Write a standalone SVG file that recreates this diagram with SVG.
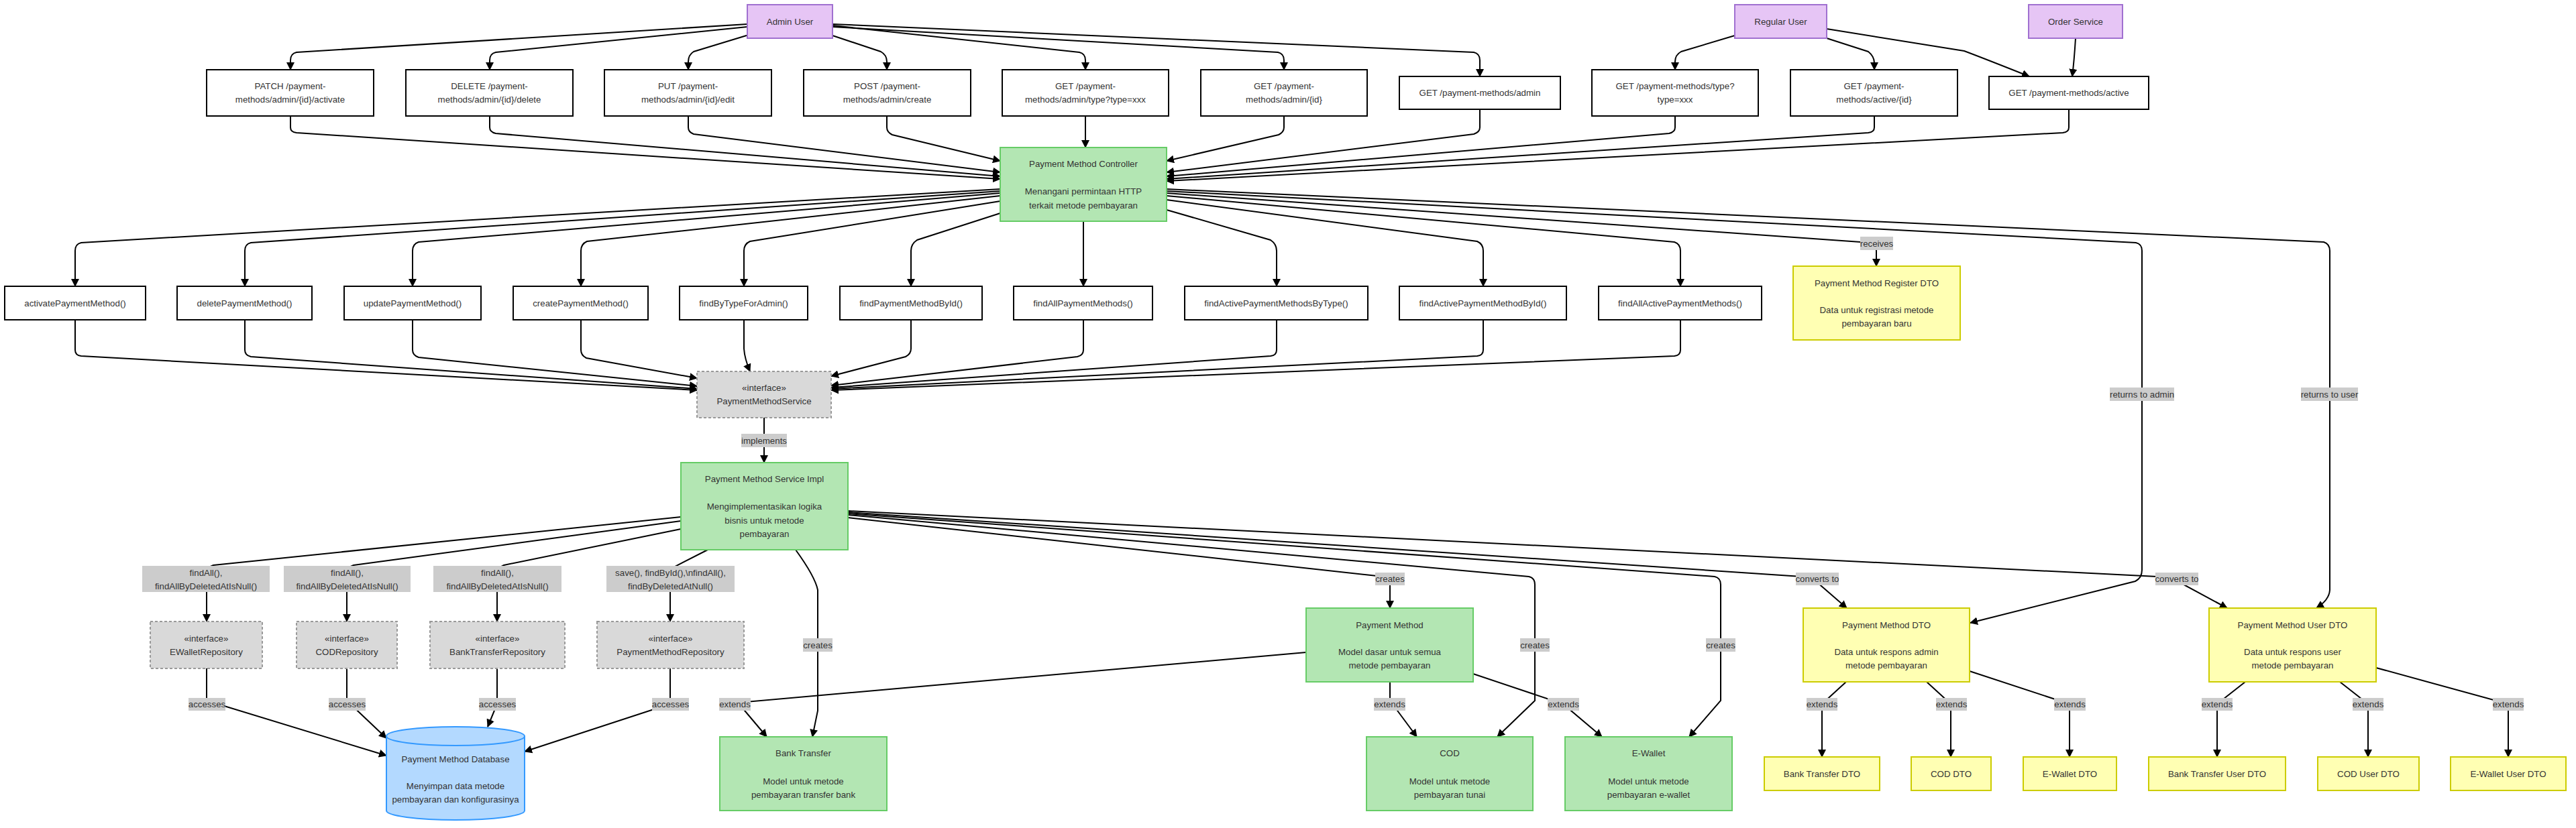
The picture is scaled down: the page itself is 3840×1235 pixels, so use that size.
<svg xmlns="http://www.w3.org/2000/svg" width="3840" height="1235" viewBox="0 0 3840 1235">
<style>
text{font-family:"Liberation Sans",Arial,sans-serif;font-size:13.3px;fill:#333;text-anchor:middle;dominant-baseline:central}
.actor{fill:#e6c5f5;stroke:#a070d0;stroke-width:2}
.ep{fill:#fff;stroke:#000;stroke-width:2}
.grn{fill:#b3e6b3;stroke:#66cc66;stroke-width:2}
.yel{fill:#ffffb3;stroke:#cccc00;stroke-width:2}
.ifc{fill:#d9d9d9;stroke:#999;stroke-width:2;stroke-dasharray:4 3}
.db{fill:#b3d9ff;stroke:#3399ff;stroke-width:2}
.lbl{fill:#cccccc}
#edges path{fill:none;stroke:#000;stroke-width:2;marker-end:url(#arr)}
</style>
<defs>
<marker id="arr" markerUnits="userSpaceOnUse" markerWidth="12" markerHeight="12" refX="11" refY="6" orient="auto">
<path d="M0,0 L12,6 L0,12 z" fill="#000"/>
</marker>
</defs>
<rect width="3840" height="1235" fill="#fff"/>
<g id="edges">
<path d="M1114,36 L442,78 Q433,80 433,90 L433,104"/>
<path d="M1114,40 L739,78 Q730,80 730,90 L730,104"/>
<path d="M1116,52 L1034,77 Q1026,82 1026,92 L1026,104"/>
<path d="M1241,53 L1313,77 Q1322,82 1322,92 L1322,104"/>
<path d="M1241,38 L1609,78 Q1618,80 1618,90 L1618,104"/>
<path d="M1241,40 L1905,78 Q1914,80 1914,90 L1914,104"/>
<path d="M1241,36 L2197,78 Q2206,80 2206,90 L2206,114"/>
<path d="M2586,53 L2506,77 Q2497,82 2497,92 L2497,104"/>
<path d="M2723,57 L2785,77 Q2794,84 2794,94 L2794,104"/>
<path d="M2723,43 L2928,76 Q2965,90 3025,114"/>
<path d="M3094,57 Q3092,90 3089,114"/>
<path d="M433,173 L433,190 Q433,197 442,198 L1491,267"/>
<path d="M730,173 L730,190 Q730,197 739,199 L1491,263"/>
<path d="M1026,173 L1026,190 Q1026,197 1034,200 L1491,257"/>
<path d="M1322,173 L1322,190 Q1322,197 1330,201 L1491,240"/>
<path d="M1618,173 L1618,220"/>
<path d="M1914,173 L1914,190 Q1914,197 1906,201 L1739,240"/>
<path d="M2206,163 L2206,190 Q2206,197 2197,200 L1739,257"/>
<path d="M2497,173 L2497,190 Q2497,197 2488,199 L1739,263"/>
<path d="M2794,173 L2794,190 Q2794,197 2785,198 L1739,267"/>
<path d="M3084,163 L3084,190 Q3084,197 3075,198 L1739,270"/>
<path d="M1491,282 L121,362 Q112,364 112,374 L112,427"/>
<path d="M1491,285 L374,362 Q365,364 365,374 L365,427"/>
<path d="M1491,288 L624,361 Q615,364 615,374 L615,427"/>
<path d="M1491,292 L875,360 Q866,364 866,374 L866,427"/>
<path d="M1491,300 L1118,360 Q1109,364 1109,374 L1109,427"/>
<path d="M1491,318 L1367,358 Q1358,364 1358,374 L1358,427"/>
<path d="M1615,330 L1615,427"/>
<path d="M1739,313 L1894,358 Q1903,364 1903,374 L1903,427"/>
<path d="M1739,298 L2202,360 Q2211,364 2211,374 L2211,427"/>
<path d="M1739,292 L2496,361 Q2505,364 2505,374 L2505,427"/>
<path d="M1739,288 L2788,362 Q2797,364 2797,374 L2797,397"/>
<path d="M1739,285 L3184,362 Q3193,364 3193,374 L3193,850 Q3193,862 3183,867 L2937,929"/>
<path d="M1739,282 L3464,361 Q3473,364 3473,374 L3473,880 Q3472,895 3453,907"/>
<path d="M112,477 L112,522 Q112,530 121,531 L1039,582"/>
<path d="M365,477 L365,522 Q365,530 374,532 L1039,580"/>
<path d="M615,477 L615,522 Q615,530 624,533 L1039,576"/>
<path d="M866,477 L866,522 Q866,530 874,534 L1039,564"/>
<path d="M1109,477 L1109,520 Q1110,535 1118,554"/>
<path d="M1358,477 L1358,520 Q1358,528 1350,532 L1239,561"/>
<path d="M1615,477 L1615,522 Q1615,530 1606,532 L1239,575"/>
<path d="M1903,477 L1903,522 Q1903,530 1894,531 L1239,578"/>
<path d="M2211,477 L2211,522 Q2211,530 2202,531 L1239,580"/>
<path d="M2505,477 L2505,522 Q2505,530 2496,531 L1239,582"/>
<path d="M1139,623 L1139,690"/>
<path d="M1015,771 L318,843 Q308,846 308,856 L308,927"/>
<path d="M1015,777 L527,843 Q517,846 517,856 L517,927"/>
<path d="M1015,789 L751,843 Q741,847 741,857 L741,927"/>
<path d="M1055,820 L1006,845 Q999,850 999,860 L999,927"/>
<path d="M308,997 L308,1045 L576,1127"/>
<path d="M517,997 L517,1045 L576,1101"/>
<path d="M741,997 L741,1050 L727,1084"/>
<path d="M999,997 L999,1050 L782,1121"/>
<path d="M1186,820 Q1215,860 1219,880 L1219,1060 L1211,1099"/>
<path d="M1264,772 L2062,860 Q2072,862 2072,872 L2072,907"/>
<path d="M1264,768 L2279,860 Q2288,862 2288,872 L2288,1045 L2232,1099"/>
<path d="M1264,766 L2556,860 Q2565,862 2565,872 L2565,1045 L2518,1099"/>
<path d="M1264,764 L2700,861 L2753,907"/>
<path d="M1264,762 L3235,861 L3320,907"/>
<path d="M1947,973 L1100,1048 L1143,1099"/>
<path d="M2072,1017 L2072,1045 L2112,1099"/>
<path d="M2196,1005 L2330,1050 L2388,1099"/>
<path d="M2752,1017 L2716,1050 L2716,1129"/>
<path d="M2872,1017 L2908,1050 L2908,1129"/>
<path d="M2936,1001 L3085,1050 L3085,1129"/>
<path d="M3347,1017 L3305,1050 L3305,1129"/>
<path d="M3488,1017 L3530,1050 L3530,1129"/>
<path d="M3542,996 L3739,1050 L3739,1129"/>
</g>
<g id="n-admin"><rect class="actor" x="1114" y="7" width="127" height="50"/><text x="1177.5" y="32">Admin User</text></g>
<g id="n-regular"><rect class="actor" x="2586" y="7" width="137" height="50"/><text x="2654.5" y="32">Regular User</text></g>
<g id="n-order"><rect class="actor" x="3024" y="7" width="140" height="50"/><text x="3094" y="32">Order Service</text></g>
<g id="n-patch"><rect class="ep" x="308" y="104" width="249" height="69"/><text x="432.5" y="128.5">PATCH /payment-</text><text x="432.5" y="148.5">methods/admin/{id}/activate</text></g>
<g id="n-delete"><rect class="ep" x="605" y="104" width="249" height="69"/><text x="729.5" y="128.5">DELETE /payment-</text><text x="729.5" y="148.5">methods/admin/{id}/delete</text></g>
<g id="n-put"><rect class="ep" x="901" y="104" width="249" height="69"/><text x="1025.5" y="128.5">PUT /payment-</text><text x="1025.5" y="148.5">methods/admin/{id}/edit</text></g>
<g id="n-post"><rect class="ep" x="1198" y="104" width="249" height="69"/><text x="1322.5" y="128.5">POST /payment-</text><text x="1322.5" y="148.5">methods/admin/create</text></g>
<g id="n-gettypeadmin"><rect class="ep" x="1494" y="104" width="248" height="69"/><text x="1618" y="128.5">GET /payment-</text><text x="1618" y="148.5">methods/admin/type?type=xxx</text></g>
<g id="n-getidadmin"><rect class="ep" x="1790" y="104" width="248" height="69"/><text x="1914" y="128.5">GET /payment-</text><text x="1914" y="148.5">methods/admin/{id}</text></g>
<g id="n-getadmin"><rect class="ep" x="2086" y="114" width="240" height="49"/><text x="2206" y="138.5">GET /payment-methods/admin</text></g>
<g id="n-gettype"><rect class="ep" x="2373" y="104" width="248" height="69"/><text x="2497" y="128.5">GET /payment-methods/type?</text><text x="2497" y="148.5">type=xxx</text></g>
<g id="n-getactiveid"><rect class="ep" x="2669" y="104" width="249" height="69"/><text x="2793.5" y="128.5">GET /payment-</text><text x="2793.5" y="148.5">methods/active/{id}</text></g>
<g id="n-getactive"><rect class="ep" x="2965" y="114" width="238" height="49"/><text x="3084" y="138.5">GET /payment-methods/active</text></g>
<g id="n-controller"><rect class="grn" x="1491" y="220" width="248" height="110"/><text x="1615" y="244">Payment Method Controller</text><text x="1615" y="285">Menangani permintaan HTTP</text><text x="1615" y="306">terkait metode pembayaran</text></g>
<g id="n-m1"><rect class="ep" x="7" y="427" width="210" height="50"/><text x="112" y="452">activatePaymentMethod()</text></g>
<g id="n-m2"><rect class="ep" x="264" y="427" width="201" height="50"/><text x="364.5" y="452">deletePaymentMethod()</text></g>
<g id="n-m3"><rect class="ep" x="513" y="427" width="204" height="50"/><text x="615" y="452">updatePaymentMethod()</text></g>
<g id="n-m4"><rect class="ep" x="765" y="427" width="201" height="50"/><text x="865.5" y="452">createPaymentMethod()</text></g>
<g id="n-m5"><rect class="ep" x="1013" y="427" width="191" height="50"/><text x="1108.5" y="452">findByTypeForAdmin()</text></g>
<g id="n-m6"><rect class="ep" x="1252" y="427" width="212" height="50"/><text x="1358" y="452">findPaymentMethodById()</text></g>
<g id="n-m7"><rect class="ep" x="1511" y="427" width="207" height="50"/><text x="1614.5" y="452">findAllPaymentMethods()</text></g>
<g id="n-m8"><rect class="ep" x="1766" y="427" width="273" height="50"/><text x="1902.5" y="452">findActivePaymentMethodsByType()</text></g>
<g id="n-m9"><rect class="ep" x="2086" y="427" width="249" height="50"/><text x="2210.5" y="452">findActivePaymentMethodById()</text></g>
<g id="n-m10"><rect class="ep" x="2383" y="427" width="243" height="50"/><text x="2504.5" y="452">findAllActivePaymentMethods()</text></g>
<g id="n-registerdto"><rect class="yel" x="2673" y="397" width="249" height="110"/><text x="2797.5" y="422">Payment Method Register DTO</text><text x="2797.5" y="462">Data untuk registrasi metode</text><text x="2797.5" y="482">pembayaran baru</text></g>
<g id="n-service"><rect class="ifc" x="1039" y="554" width="200" height="69"/><text x="1139" y="578.5">«interface»</text><text x="1139" y="598.5">PaymentMethodService</text></g>
<g id="n-impl"><rect class="grn" x="1015" y="690" width="249" height="130"/><text x="1139.5" y="714">Payment Method Service Impl</text><text x="1139.5" y="755">Mengimplementasikan logika</text><text x="1139.5" y="776">bisnis untuk metode</text><text x="1139.5" y="796">pembayaran</text></g>
<g id="n-ewalletrepo"><rect class="ifc" x="224" y="927" width="167" height="70"/><text x="307.5" y="952">«interface»</text><text x="307.5" y="972">EWalletRepository</text></g>
<g id="n-codrepo"><rect class="ifc" x="442" y="927" width="150" height="70"/><text x="517" y="952">«interface»</text><text x="517" y="972">CODRepository</text></g>
<g id="n-bankrepo"><rect class="ifc" x="641" y="927" width="201" height="70"/><text x="741.5" y="952">«interface»</text><text x="741.5" y="972">BankTransferRepository</text></g>
<g id="n-pmrepo"><rect class="ifc" x="890" y="927" width="219" height="70"/><text x="999.5" y="952">«interface»</text><text x="999.5" y="972">PaymentMethodRepository</text></g>
<g id="n-db"><path class="db" d="M576,1098 a103,14 0 0,0 206,0 a103,14 0 0,0 -206,0 l0,111 a103,14 0 0,0 206,0 l0,-111"/><text x="679" y="1132">Payment Method Database</text><text x="679" y="1172">Menyimpan data metode</text><text x="679" y="1192">pembayaran dan konfigurasinya</text></g>
<g id="n-bank"><rect class="grn" x="1073" y="1099" width="249" height="110"/><text x="1197.5" y="1123">Bank Transfer</text><text x="1197.5" y="1165">Model untuk metode</text><text x="1197.5" y="1185">pembayaran transfer bank</text></g>
<g id="n-pm"><rect class="grn" x="1947" y="907" width="249" height="110"/><text x="2071.5" y="932">Payment Method</text><text x="2071.5" y="972">Model dasar untuk semua</text><text x="2071.5" y="992">metode pembayaran</text></g>
<g id="n-cod"><rect class="grn" x="2037" y="1099" width="248" height="110"/><text x="2161" y="1123">COD</text><text x="2161" y="1165">Model untuk metode</text><text x="2161" y="1185">pembayaran tunai</text></g>
<g id="n-ewallet"><rect class="grn" x="2333" y="1099" width="249" height="110"/><text x="2457.5" y="1123">E-Wallet</text><text x="2457.5" y="1165">Model untuk metode</text><text x="2457.5" y="1185">pembayaran e-wallet</text></g>
<g id="n-pmdto"><rect class="yel" x="2688" y="907" width="248" height="110"/><text x="2812" y="932">Payment Method DTO</text><text x="2812" y="972">Data untuk respons admin</text><text x="2812" y="992">metode pembayaran</text></g>
<g id="n-pmuserdto"><rect class="yel" x="3293" y="907" width="249" height="110"/><text x="3417.5" y="932">Payment Method User DTO</text><text x="3417.5" y="972">Data untuk respons user</text><text x="3417.5" y="992">metode pembayaran</text></g>
<g id="n-btdto"><rect class="yel" x="2630" y="1129" width="172" height="50"/><text x="2716" y="1154">Bank Transfer DTO</text></g>
<g id="n-coddto"><rect class="yel" x="2849" y="1129" width="119" height="50"/><text x="2908.5" y="1154">COD DTO</text></g>
<g id="n-ewdto"><rect class="yel" x="3016" y="1129" width="139" height="50"/><text x="3085.5" y="1154">E-Wallet DTO</text></g>
<g id="n-btudto"><rect class="yel" x="3203" y="1129" width="204" height="50"/><text x="3305" y="1154">Bank Transfer User DTO</text></g>
<g id="n-codudto"><rect class="yel" x="3455" y="1129" width="151" height="50"/><text x="3530.5" y="1154">COD User DTO</text></g>
<g id="n-ewudto"><rect class="yel" x="3653" y="1129" width="172" height="50"/><text x="3739" y="1154">E-Wallet User DTO</text></g>
<g id="edge-labels">
<rect class="lbl" x="2773" y="353" width="49" height="20"/><text x="2797.5" y="363">receives</text>
<rect class="lbl" x="3145" y="578" width="96" height="20"/><text x="3193" y="588">returns to admin</text>
<rect class="lbl" x="3430" y="578" width="85" height="20"/><text x="3472.5" y="588">returns to user</text>
<rect class="lbl" x="1105" y="647" width="68" height="20"/><text x="1139" y="657">implements</text>
<rect class="lbl" x="212" y="844" width="190" height="39"/><text x="307" y="854">findAll(),</text><text x="307" y="874">findAllByDeletedAtIsNull()</text>
<rect class="lbl" x="423" y="844" width="189" height="39"/><text x="517.5" y="854">findAll(),</text><text x="517.5" y="874">findAllByDeletedAtIsNull()</text>
<rect class="lbl" x="646" y="844" width="191" height="39"/><text x="741.5" y="854">findAll(),</text><text x="741.5" y="874">findAllByDeletedAtIsNull()</text>
<rect class="lbl" x="904" y="844" width="191" height="39"/><text x="999.5" y="854">save(), findById(),\nfindAll(),</text><text x="999.5" y="874">findByDeletedAtNull()</text>
<rect class="lbl" x="281" y="1041" width="55" height="19"/><text x="308.5" y="1050.5">accesses</text>
<rect class="lbl" x="490" y="1041" width="55" height="19"/><text x="517.5" y="1050.5">accesses</text>
<rect class="lbl" x="714" y="1041" width="55" height="19"/><text x="741.5" y="1050.5">accesses</text>
<rect class="lbl" x="972" y="1041" width="55" height="19"/><text x="999.5" y="1050.5">accesses</text>
<rect class="lbl" x="1197" y="952" width="44" height="20"/><text x="1219" y="962">creates</text>
<rect class="lbl" x="2050" y="854" width="44" height="19"/><text x="2072" y="863.5">creates</text>
<rect class="lbl" x="2266" y="952" width="44" height="20"/><text x="2288" y="962">creates</text>
<rect class="lbl" x="2543" y="952" width="44" height="20"/><text x="2565" y="962">creates</text>
<rect class="lbl" x="1072" y="1041" width="47" height="19"/><text x="1095.5" y="1050.5">extends</text>
<rect class="lbl" x="2048" y="1041" width="47" height="19"/><text x="2071.5" y="1050.5">extends</text>
<rect class="lbl" x="2307" y="1041" width="47" height="19"/><text x="2330.5" y="1050.5">extends</text>
<rect class="lbl" x="2677" y="854" width="64" height="19"/><text x="2709" y="863.5">converts to</text>
<rect class="lbl" x="3213" y="854" width="64" height="19"/><text x="3245" y="863.5">converts to</text>
<rect class="lbl" x="2693" y="1041" width="46" height="19"/><text x="2716" y="1050.5">extends</text>
<rect class="lbl" x="2886" y="1041" width="46" height="19"/><text x="2909" y="1050.5">extends</text>
<rect class="lbl" x="3062" y="1041" width="47" height="19"/><text x="3085.5" y="1050.5">extends</text>
<rect class="lbl" x="3282" y="1041" width="46" height="19"/><text x="3305" y="1050.5">extends</text>
<rect class="lbl" x="3507" y="1041" width="46" height="19"/><text x="3530" y="1050.5">extends</text>
<rect class="lbl" x="3716" y="1041" width="46" height="19"/><text x="3739" y="1050.5">extends</text>
</g>
</svg>
